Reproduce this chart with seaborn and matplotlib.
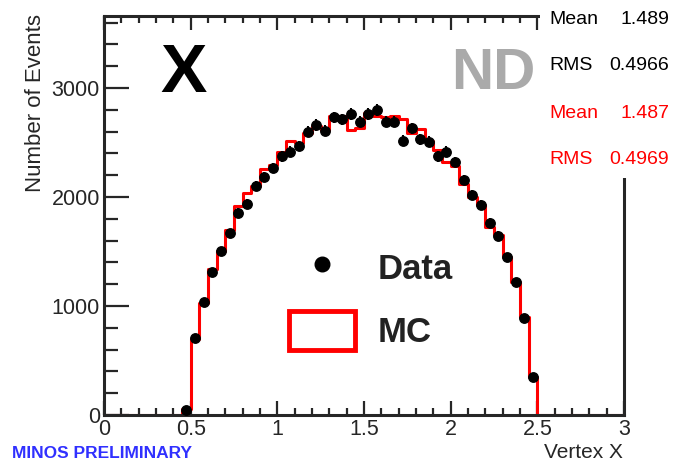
import numpy as np
import pandas as pd
import seaborn as sns
import matplotlib
matplotlib.use("Agg")
import matplotlib.pyplot as plt
from matplotlib.lines import Line2D
from matplotlib.patches import Patch, Rectangle
from matplotlib.ticker import MultipleLocator

# ---- data ----
bin_width = 0.05
centers = [0.475, 0.525, 0.575, 0.625, 0.675, 0.725, 0.775, 0.825, 0.875, 0.925,
           0.975, 1.025, 1.075, 1.125, 1.175, 1.225, 1.275, 1.325, 1.375, 1.425,
           1.475, 1.525, 1.575, 1.625, 1.675, 1.725, 1.775, 1.825, 1.875, 1.925,
           1.975, 2.025, 2.075, 2.125, 2.175, 2.225, 2.275, 2.325, 2.375, 2.425,
           2.475]
data_counts = [50, 705, 1040, 1315, 1500, 1667, 1856, 1936, 2105, 2186,
               2268, 2374, 2416, 2468, 2600, 2660, 2609, 2731, 2713, 2761,
               2691, 2761, 2798, 2691, 2691, 2517, 2630, 2529, 2505, 2374,
               2416, 2320, 2153, 2018, 1927, 1764, 1646, 1447, 1223, 890,
               351]
mc_counts = [55, 700, 1025, 1336, 1505, 1700, 1917, 2040, 2100, 2255,
             2290, 2408, 2517, 2492, 2590, 2651, 2615, 2743, 2743, 2615,
             2630, 2768, 2743, 2731, 2743, 2713, 2584, 2625, 2512, 2428,
             2320, 2284, 2115, 2000, 1927, 1728, 1651, 1447, 1223, 895,
             351]
x_range = (0.0, 3.0)
y_max = 3660
x_ticklabels = ["0", "0.5", "1", "1.5", "2", "2.5", "3"]
y_ticks = [0, 1000, 2000, 3000]
stats_labels = ["Mean", "RMS", "Mean", "RMS"]
stats_values = ["1.489", "0.4966", "1.487", "0.4969"]
stats_colors = ["black", "black", "red", "red"]
legend_labels = ["Data", "MC"]

sns.set_style("ticks")
plt.rcParams["font.family"] = ["Liberation Sans", "DejaVu Sans"]

W, H = 676, 463
fig = plt.figure(figsize=(W / 100, H / 100), dpi=100)
ax = fig.add_axes([104 / W, 1 - 415 / H, (624 - 104) / W, (415 - 16) / H])

# full binning 0..3 with MC zeros outside the filled range
n_bins = int(round((x_range[1] - x_range[0]) / bin_width))
all_centers = x_range[0] + bin_width * (np.arange(n_bins) + 0.5)
mc_map = {round(c, 3): v for c, v in zip(centers, mc_counts)}
mc_full = [mc_map.get(round(float(c), 3), 0) for c in all_centers]
df_mc = pd.DataFrame({"x": all_centers, "w": mc_full})

sns.histplot(data=df_mc, x="x", weights="w", binwidth=bin_width,
             binrange=x_range, element="step",
             fill=False, color="red", linewidth=2.2, ax=ax)

df_data = pd.DataFrame({"x": centers, "y": data_counts})
ax.errorbar(df_data["x"], df_data["y"], yerr=np.sqrt(df_data["y"]),
            fmt="o", color="black", markersize=6.8, elinewidth=1.5,
            capsize=0, zorder=5)

ax.set_xlim(*x_range)
ax.set_ylim(0, y_max)
ax.set_xticks(np.arange(0, 3.01, 0.5))
ax.set_xticklabels(x_ticklabels)
ax.set_yticks(y_ticks)
ax.xaxis.set_minor_locator(MultipleLocator(0.1))
ax.yaxis.set_minor_locator(MultipleLocator(200))
ax.tick_params(which="both", direction="in", top=True, right=False,
               width=1.6, labelsize=15.5)
ax.tick_params(axis="x", which="major", length=10, pad=3)
ax.tick_params(axis="x", which="minor", length=5)
ax.tick_params(axis="y", which="major", length=18, pad=3)
ax.tick_params(axis="y", which="minor", length=10)
for s in ax.spines.values():
    s.set_linewidth(2.2)
    s.set_visible(True)

ax.set_xlabel("")
ax.set_ylabel("")
fig.text(36 / W, 1 - 14 / H, "Number of Events", rotation=90, ha="center",
         va="top", fontsize=16)
fig.text(623 / W, 1 - 453 / H, "Vertex X", ha="right", va="center",
         fontsize=15)
fig.text(12 / W, 1 - 454 / H, "MINOS PRELIMINARY", ha="left", va="center",
         fontsize=12.5, fontweight="bold", color="#3030ff")

# big labels
fig.text(184 / W, 1 - 74 / H, "X", ha="center", va="center",
         fontsize=50, fontweight="bold", color="black")
fig.text(493 / W, 1 - 74 / H, "ND", ha="center", va="center",
         fontsize=42, fontweight="bold", color="#aaaaaa")

# stats box (white, covers frame corner)
fig.patches.append(Rectangle((540 / W, 1 - 178 / H), 136 / W, 178 / H,
                             transform=fig.transFigure, facecolor="white",
                             edgecolor="none", zorder=10))
stat_y = [19, 66, 113, 160]
for lab, val, col, yy in zip(stats_labels, stats_values, stats_colors, stat_y):
    fig.text(549 / W, 1 - yy / H, lab, ha="left", va="center", fontsize=14,
             color=col, zorder=11)
    fig.text(669 / W, 1 - yy / H, val, ha="right", va="center", fontsize=14,
             color=col, zorder=11)

# legend
handles = [Line2D([], [], marker="o", color="black", linestyle="none",
                  markersize=10.5),
           Patch(facecolor="white", edgecolor="red", linewidth=3.5)]
leg = ax.legend(handles, legend_labels, loc="upper left",
                bbox_to_anchor=((289 - 104) / 520, (415 - 248) / 399),
                frameon=False, fontsize=25, handlelength=1.9,
                handleheight=1.38, handletextpad=0.66, labelspacing=0.66,
                borderaxespad=0, borderpad=0)
for t in leg.get_texts():
    t.set_fontweight("bold")
    t.set_color("#222222")

fig.savefig("out.png", dpi=100)
